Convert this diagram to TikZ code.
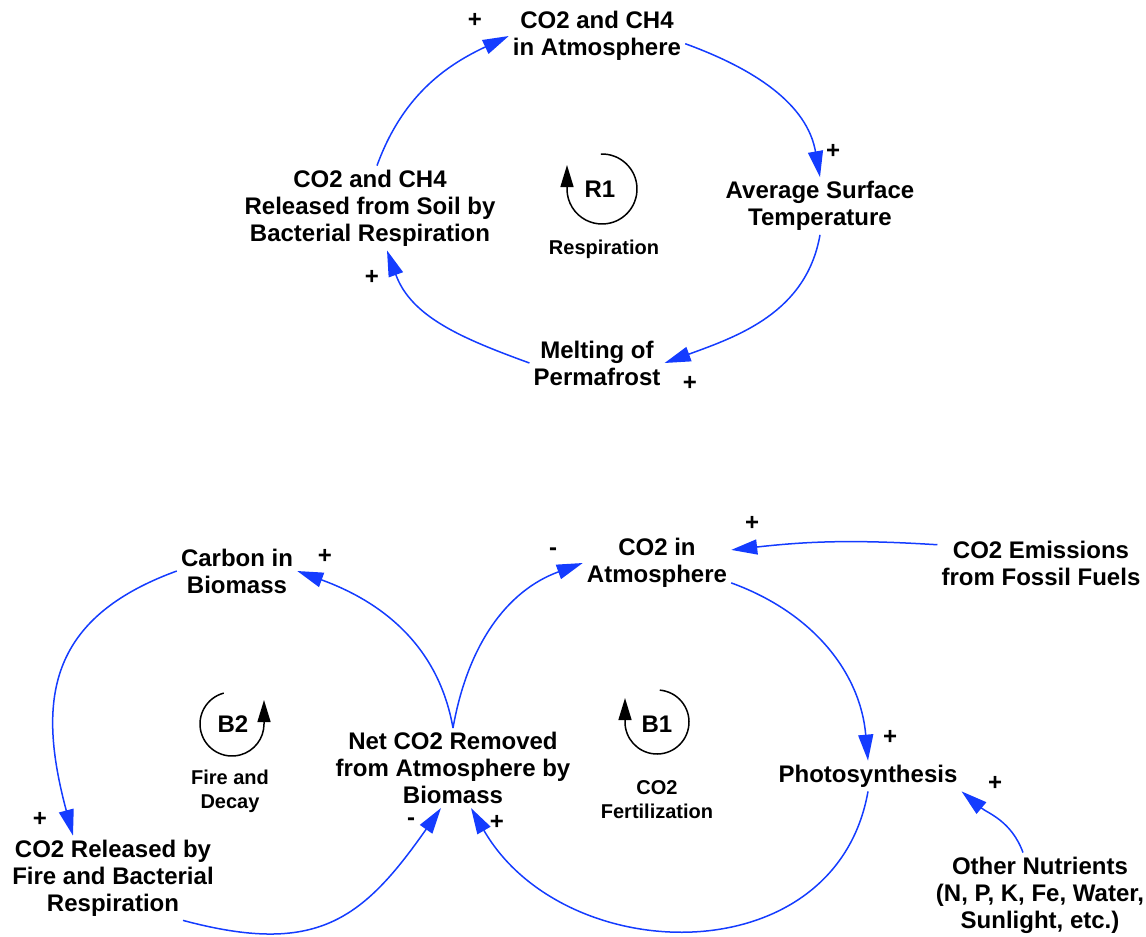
\documentclass[tikz,border=0pt]{standalone}
\usepackage{fontspec}
\setmainfont{Liberation Sans}
\usetikzlibrary{arrows.meta}
\definecolor{linkblue}{RGB}{20,60,255}
\begin{document}
\begin{tikzpicture}[x=1pt,y=1pt,
  var/.style={font=\bfseries\fontsize{24}{27}\selectfont, align=center, inner sep=4pt},
  pol/.style={font=\bfseries\fontsize{24}{27}\selectfont, inner sep=0pt},
  looplbl/.style={font=\bfseries\fontsize{20}{24}\selectfont, align=center, inner sep=0pt},
  loopid/.style={font=\bfseries\fontsize{24}{27}\selectfont, inner sep=0pt},
  link/.style={draw=linkblue, line width=1.5pt, -{Triangle[length=26pt,width=15pt]}},
  loopsym/.style={draw=black, line width=1.5pt, -{Triangle[length=22pt,width=13pt]}},
]
\useasboundingbox (0,0) rectangle (1146,-937);

% ---------- top loop R1 ----------
\node[var] (atm1) at (597,-36) {CO2 and CH4\\in Atmosphere};
\node[var] (temp) at (820,-206) {Average Surface\\Temperature};
\node[var] (melt) at (597,-363) {Melting of\\Permafrost};
\node[var] (soil) at (370,-208) {CO2 and CH4\\Released from Soil by\\Bacterial Respiration};

\draw[link] ([xshift=7pt]soil.north) to[out=70,in=205] (atm1.west);
\draw[link] (atm1.-5) to[out=-20,in=100] (temp.north);
\draw[link] (temp.south) to[out=-100,in=20] (melt.east);
\draw[link] (melt.west) to[out=160,in=-70] ([xshift=17pt]soil.south);

\node[pol] (s1) at (475,-20) {+};
\node[pol] (s2) at (833,-151) {+};
\node[pol] (s3) at (690,-383) {+};
\node[pol] (s4) at (372,-277) {+};

\coordinate (R1c) at (602,-189);
\draw[loopsym] (R1c) ++(92:35) arc[start angle=92,end angle=-180,radius=35] -- ++(0,24);
\node[loopid] (R1t) at (600,-189) {R1};
\node[looplbl] (R1l) at (604,-249) {Respiration};

% ---------- bottom loops B1, B2 ----------
\node[var] (biomass) at (237,-571) {Carbon in\\Biomass};
\node[var] (atm2) at (657,-563) {CO2 in\\Atmosphere};
\node[var] (fossil) at (1041,-563) {CO2 Emissions\\from Fossil Fuels};
\node[var] (net) at (453,-768) {Net CO2 Removed\\from Atmosphere by\\Biomass};
\node[var] (photo) at (868,-776) {Photosynthesis};
\node[var] (nutr) at (1040,-895) {Other Nutrients\\(N, P, K, Fe, Water,\\Sunlight, etc.)};
\node[var] (released) at (113,-878) {CO2 Released by\\Fire and Bacterial\\Respiration};

\draw[link] (net.north) to[out=100,in=-20] (biomass.east);
\draw[link] (net.north) to[out=80,in=200] (atm2.west);
\draw[link] (atm2.-15) to[out=-20,in=95] (photo.north);
\draw[link] (fossil.170) to[bend right=5] (atm2.10);
\draw[link] (photo.south) to[out=-100,in=-60,looseness=1.2] ([xshift=18pt]net.south);
\draw[link] ([xshift=70pt]released.south) to[out=-15,in=235,looseness=1.25] ([xshift=-12pt]net.south);
\draw[link] (biomass.west) to[out=200,in=105,looseness=1.25] ([xshift=-40pt]released.north);
\draw[link] ([xshift=-17pt]nutr.north) to[out=110,in=-40] (photo.south east);

\node[pol] (s5) at (325,-556) {+};
\node[pol] (s6) at (553,-552) {-};
\node[pol] (s7) at (752,-523) {+};
\node[pol] (s8) at (890,-737) {+};
\node[pol] (s9) at (995,-783) {+};
\node[pol] (s10) at (40,-819) {+};
\node[pol] (s11) at (411,-822) {-};
\node[pol] (s12) at (497,-822) {+};

\coordinate (B2c) at (232,-724);
\draw[loopsym] (B2c) ++(105:32) arc[start angle=105,end angle=360,radius=32] -- ++(0,24);
\node[loopid] (B2t) at (233,-724) {B2};
\node[looplbl] (B2l) at (230,-791) {Fire and\\Decay};

\coordinate (B1c) at (657,-722);
\draw[loopsym] (B1c) ++(85:32) arc[start angle=85,end angle=-180,radius=32] -- ++(0,24);
\node[loopid] (B1t) at (657,-724) {B1};
\node[looplbl] (B1l) at (657,-800) {CO2\\Fertilization};
\end{tikzpicture}
\end{document}
